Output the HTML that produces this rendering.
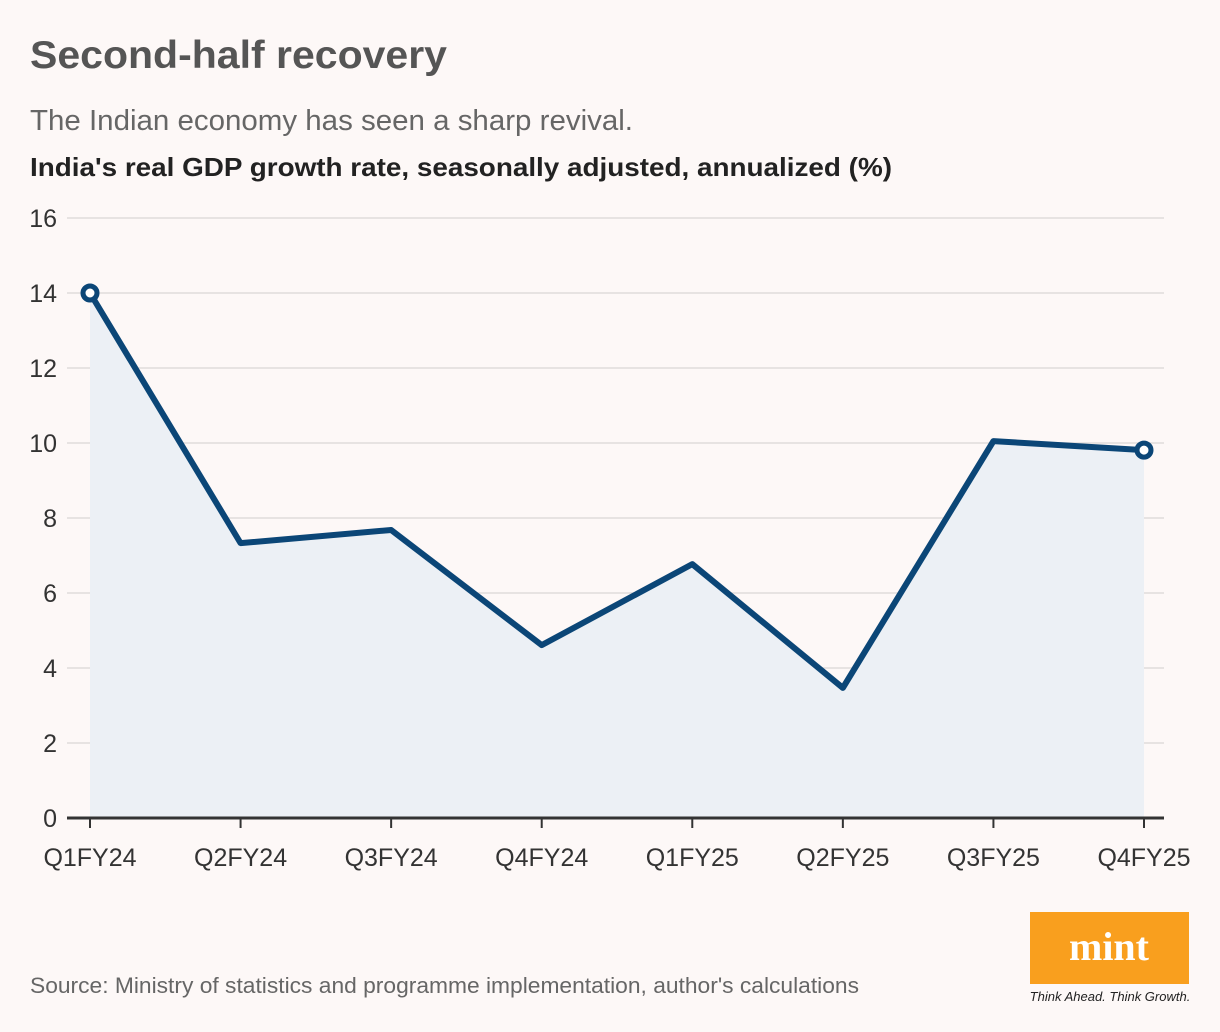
<!DOCTYPE html>
<html><head><meta charset="utf-8"><style>
body{margin:0;background:#fdf8f7;width:1220px;height:1032px;overflow:hidden;font-family:"Liberation Sans",sans-serif}
</style></head><body>
<svg width="1220" height="1032" style="position:absolute;left:0;top:0">
<text x="30" y="68" font-size="39" font-weight="bold" fill="#555" textLength="417" lengthAdjust="spacingAndGlyphs">Second-half recovery</text>
<text x="30" y="130" font-size="29" fill="#666" textLength="603" lengthAdjust="spacingAndGlyphs">The Indian economy has seen a sharp revival.</text>
<text x="30" y="176" font-size="26" font-weight="bold" fill="#222" textLength="862" lengthAdjust="spacingAndGlyphs">India's real GDP growth rate, seasonally adjusted, annualized (%)</text>
<g id="grid"></g><g id="plot"></g>
<text x="30" y="993" font-size="22" fill="#666" textLength="829" lengthAdjust="spacingAndGlyphs">Source: Ministry of statistics and programme implementation, author's calculations</text>
<rect x="1030" y="912" width="159" height="72" fill="#f99f1e"/>
<text x="1109" y="960" font-size="40" font-weight="bold" font-family="Liberation Serif,serif" fill="#fff" text-anchor="middle">mint</text>
<text x="1110" y="1001" font-size="13" font-style="italic" fill="#222" text-anchor="middle">Think Ahead. Think Growth.</text>
</svg>
<script>
const categories=["Q1FY24","Q2FY24","Q3FY24","Q4FY24","Q1FY25","Q2FY25","Q3FY25","Q4FY25"];
const gdpValues=[14.0,7.33,7.68,4.61,6.77,3.47,10.05,9.81];
const yTicks=[0,2,4,6,8,10,12,14,16];
const NS="http://www.w3.org/2000/svg";
const x=i=>90+i*(1144-90)/(categories.length-1);
const y=v=>818-v*37.5;
function mk(t,a,p){const e=document.createElementNS(NS,t);for(const k in a)e.setAttribute(k,a[k]);p.appendChild(e);return e;}
const g=document.getElementById('grid'),p=document.getElementById('plot');
yTicks.forEach(v=>{
 if(v>0){const l=mk('line',{x1:67,x2:1164,y1:y(v),y2:y(v),stroke:'#e0dcdb','stroke-width':1.5},g);
 
 }
 const t=mk('text',{x:57,y:y(v)+9,'font-size':25,fill:'#333','text-anchor':'end'},g);t.textContent=v;
 
 
});
let pts=gdpValues.map((v,i)=>x(i)+','+y(v)).join(' ');
const area=mk('polygon',{points:x(0)+','+y(0)+' '+pts+' '+x(gdpValues.length-1)+','+y(0),fill:'#ecf0f5'},p);


const ax=mk('line',{x1:67,x2:1164,y1:818,y2:818,stroke:'#333','stroke-width':3},p);


categories.forEach((c,i)=>{
 const tk=mk('line',{x1:x(i),x2:x(i),y1:818,y2:828,stroke:'#333','stroke-width':2},p);
 
 
 const t=mk('text',{x:x(i),y:866,'font-size':25,fill:'#333','text-anchor':'middle'},p);t.textContent=c;
 
 
});
const line=mk('polyline',{points:pts,fill:'none',stroke:'#0b4677','stroke-width':6,'stroke-linejoin':'round'},p);


[0,gdpValues.length-1].forEach(i=>{
 const c=mk('circle',{cx:x(i),cy:y(gdpValues[i]),r:7,fill:'#fff',stroke:'#0b4677','stroke-width':5},p);
 
 
});
</script>
</body></html>
